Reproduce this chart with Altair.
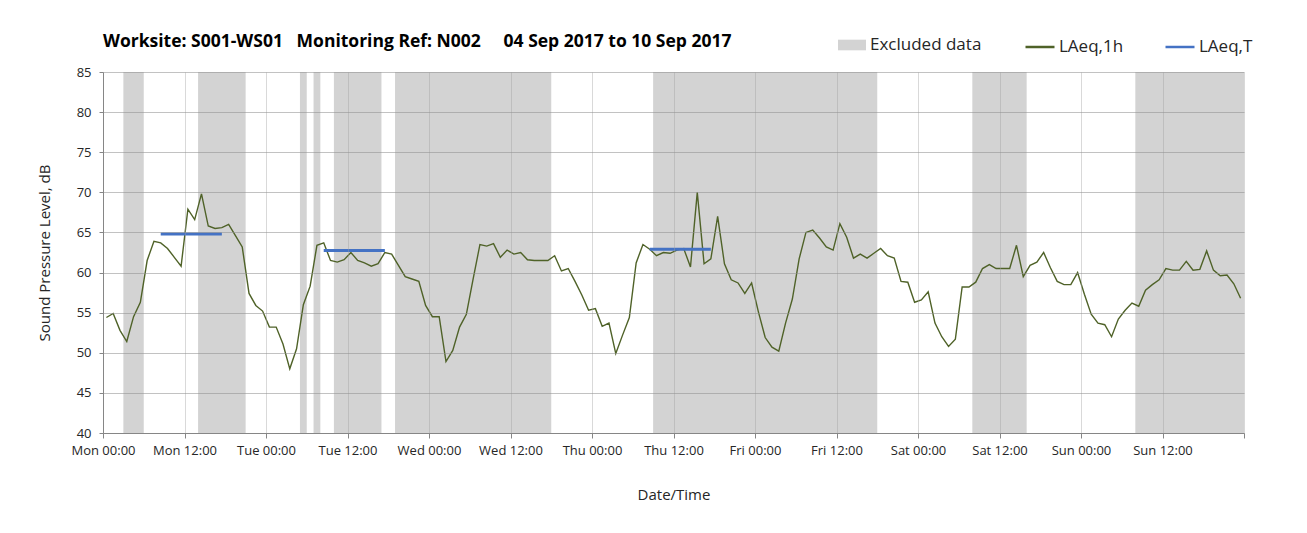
import altair as alt
import pandas as pd

# ---- data ----
laeq_1h = [
    54.4, 54.9, 52.8, 51.4, 54.5, 56.3, 61.5, 63.9, 63.7, 63.0,
    61.9, 60.8, 67.9, 66.6, 69.8, 65.8, 65.5, 65.6, 66.0, 64.6,
    63.2, 57.4, 55.9, 55.2, 53.2, 53.2, 51.1, 48.0, 50.5, 56.0,
    58.3, 63.4, 63.7, 61.5, 61.3, 61.6, 62.5, 61.5, 61.2, 60.8,
    61.1, 62.5, 62.3, 60.9, 59.5, 59.2, 58.9, 55.9, 54.5, 54.5,
    48.9, 50.3, 53.2, 54.8, 59.2, 63.5, 63.3, 63.6, 61.9, 62.8,
    62.3, 62.5, 61.6, 61.5, 61.5, 61.5, 62.1, 60.2, 60.5, 58.9,
    57.2, 55.3, 55.5, 53.3, 53.7, 49.9, 52.2, 54.4, 61.2, 63.5,
    62.9, 62.1, 62.5, 62.4, 62.8, 63.0, 60.7, 70.0, 61.1, 61.7,
    67.0, 61.1, 59.1, 58.7, 57.4, 58.7, 55.1, 51.9, 50.7, 50.2,
    53.7, 56.7, 61.7, 65.0, 65.3, 64.3, 63.2, 62.8, 66.1, 64.4,
    61.8, 62.3, 61.8, 62.4, 63.0, 62.1, 61.8, 58.9, 58.8, 56.3,
    56.6, 57.6, 53.7, 52.0, 50.8, 51.7, 58.2, 58.2, 58.8, 60.5,
    61.0, 60.5, 60.5, 60.5, 63.4, 59.5, 60.9, 61.3, 62.5, 60.6,
    58.9, 58.5, 58.5, 60.0, 57.3, 54.8, 53.7, 53.5, 52.0, 54.2,
    55.3, 56.2, 55.8, 57.8, 58.5, 59.1, 60.5, 60.3, 60.3, 61.4,
    60.3, 60.4, 62.7, 60.3, 59.6, 59.7, 58.6, 56.8,
]

laeq_t_start = [8, 32, 80]
laeq_t_end = [17, 41, 89]
laeq_t_level = [64.8, 62.75, 62.9]

excluded_start = [3, 14, 29, 31, 34, 43, 81, 128, 152]
excluded_end = [6, 21, 30, 32, 41, 66, 114, 136, 168]

day_names = ["Mon", "Tue", "Wed", "Thu", "Fri", "Sat", "Sun"]
tick_hours = list(range(0, 169, 12))
y_ticks = list(range(40, 86, 5))

series_names = ["LAeq,1h", "LAeq,T"]
series_colors = ["#4F6228", "#4472C4"]
band_name = "Excluded data"
band_color = "#d3d3d3"

NB = "\u00a0"
title_text = ("Worksite: S001-WS01" + NB * 3 + "Monitoring Ref: N002" + NB * 5
              + "04 Sep 2017 to 10 Sep 2017")

# ---- tables ----
line_df = pd.DataFrame({
    "t": [h + 0.5 for h in range(len(laeq_1h))],
    "level": laeq_1h,
    "series": series_names[0],
})

t_rows = []
for i, (s, e, v) in enumerate(zip(laeq_t_start, laeq_t_end, laeq_t_level)):
    t_rows.append({"t": s + 0.5, "level": v, "series": series_names[1], "period": i})
    t_rows.append({"t": e + 0.5, "level": v, "series": series_names[1], "period": i})
t_df = pd.DataFrame(t_rows)

band_df = pd.DataFrame({"start": excluded_start, "end": excluded_end, "label": band_name})

days_js = "[" + ",".join("'" + d + "'" for d in day_names) + "]"
label_expr = ("datum.value >= 168 ? '' : " + days_js +
              "[floor(datum.value / 24)] + (datum.value % 24 == 0 ? ' 00:00' : ' 12:00')")

FONT = "Open Sans"

x_scale = alt.Scale(domain=[0, 168], nice=False, zero=False)
y_scale = alt.Scale(domain=[40, 85], nice=False, zero=False)

x_axis = alt.Axis(
    values=tick_hours, labelExpr=label_expr, title="Date/Time",
    grid=True, gridColor="#a0a0a0", gridOpacity=0.4,
    tickSize=5, tickColor="#868686", domainColor="#868686",
    labelPadding=6, titlePadding=30, labelFlush=False, labelOverlap=False,
    zindex=1,
)
y_axis = alt.Axis(
    values=y_ticks, title="Sound Pressure Level, dB",
    grid=True, gridColor="#909090", gridOpacity=0.55,
    tickSize=4, tickColor="#868686", domainColor="#868686",
    labelPadding=8, titlePadding=24, zindex=1,
)

bands = alt.Chart(band_df).mark_rect().encode(
    x=alt.X("start:Q", scale=x_scale, axis=x_axis),
    x2="end:Q",
    fill=alt.Fill(
        "label:N",
        scale=alt.Scale(domain=[band_name], range=[band_color]),
        legend=alt.Legend(
            title=None, orient="none", legendX=735, legendY=-41,
            direction="horizontal",
            symbolType="M-1,-0.38H1V0.38H-1Z", symbolSize=784,
            symbolStrokeWidth=0, labelFont=FONT, labelFontSize=17,
            labelColor="#262626", labelOffset=4, padding=0,
        ),
    ),
)

line = alt.Chart(line_df).mark_line(strokeWidth=1.4).encode(
    x=alt.X("t:Q", scale=x_scale),
    y=alt.Y("level:Q", scale=y_scale, axis=y_axis),
    stroke=alt.Stroke(
        "series:N",
        scale=alt.Scale(domain=series_names, range=series_colors),
        legend=alt.Legend(
            title=None, orient="none", legendX=921, legendY=-41,
            direction="horizontal", symbolType="stroke", symbolSize=841,
            symbolStrokeWidth=2.5, labelFont=FONT, labelFontSize=17,
            labelColor="#262626", labelOffset=3, columnPadding=36, padding=0,
        ),
    ),
)

tline = alt.Chart(t_df).mark_line(strokeWidth=3).encode(
    x=alt.X("t:Q", scale=x_scale),
    y=alt.Y("level:Q", scale=y_scale),
    stroke=alt.Stroke("series:N"),
    detail="period:N",
)

chart = alt.layer(bands, line, tline).properties(
    width=1141,
    height=361,
    title=alt.TitleParams(
        text=title_text, anchor="start", frame="group", font=FONT,
        fontSize=17.5, fontWeight="bold", color="#000000", offset=21,
        baseline="bottom", dy=58,
    ),
    autosize=alt.AutoSizeParams(type="none"),
    padding={"left": 95, "top": 64, "right": 50, "bottom": 95},
).configure_view(stroke=None).configure_axis(
    labelFont=FONT, labelFontSize=13, labelColor="#262626",
    titleFont=FONT, titleFontSize=15, titleFontWeight="normal", titleColor="#262626",
)

chart.save("out.html", embed_options={"renderer": "svg", "actions": False})
